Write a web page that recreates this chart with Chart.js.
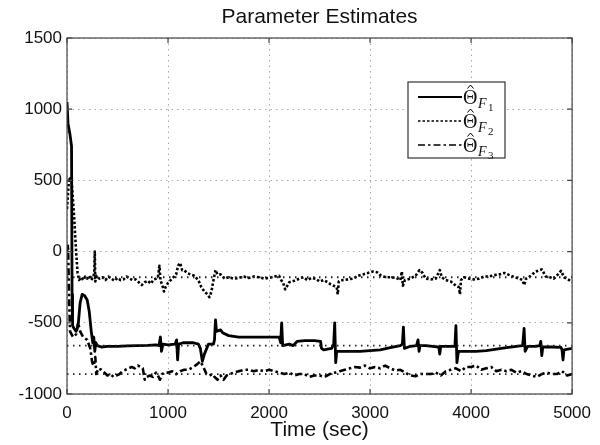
<!DOCTYPE html>
<html>
<head>
<meta charset="utf-8">
<script src="https://cdn.jsdelivr.net/npm/chart.js@4.4.0/dist/chart.umd.min.js"></script>
<style>
  html, body { margin: 0; padding: 0; background: #fff; }
  #chart { display: block; }
</style>
</head>
<body>
<canvas id="chart" width="600" height="445"></canvas>
<script>
// values (time in sec, estimate)
const timeF1 = [0, 10, 30, 45, 50, 55, 70, 90, 110, 130, 150, 175, 200, 220, 240, 255, 265, 275, 285, 300, 340, 400, 500, 600, 700, 800, 880, 910, 925, 935, 950, 1000, 1070, 1085, 1095, 1105, 1150, 1250, 1300, 1320, 1340, 1360, 1400, 1450, 1460, 1470, 1480, 1520, 1540, 1600, 1700, 1800, 1900, 2000, 2100, 2115, 2125, 2135, 2200, 2240, 2280, 2350, 2450, 2510, 2520, 2540, 2620, 2640, 2650, 2660, 2670, 2800, 2900, 3000, 3100, 3200, 3300, 3320, 3330, 3340, 3400, 3460, 3475, 3485, 3495, 3550, 3620, 3680, 3690, 3700, 3780, 3840, 3850, 3860, 3875, 3950, 4050, 4150, 4250, 4350, 4450, 4510, 4525, 4535, 4560, 4640, 4680, 4690, 4700, 4710, 4800, 4890, 4900, 4910, 4920, 5000];
const thetaF1 = [1050, 900, 820, 740, -300, -520, -540, -560, -520, -360, -300, -310, -340, -420, -560, -640, -600, -700, -640, -660, -670, -665, -665, -662, -660, -658, -655, -660, -600, -700, -650, -655, -650, -620, -760, -650, -640, -640, -650, -680, -770, -720, -650, -650, -620, -480, -560, -550, -570, -590, -600, -600, -600, -600, -600, -640, -500, -660, -650, -660, -630, -625, -625, -630, -680, -690, -680, -650, -500, -780, -700, -700, -700, -695, -690, -675, -660, -650, -530, -680, -665, -660, -620, -700, -660, -660, -665, -670, -720, -665, -665, -665, -520, -780, -700, -700, -700, -695, -685, -675, -665, -660, -540, -700, -665, -665, -660, -630, -730, -670, -670, -672, -690, -760, -690, -680];

const timeF2 = [0, 20, 45, 70, 90, 105, 120, 140, 160, 180, 200, 220, 240, 260, 270, 275, 280, 290, 320, 350, 380, 410, 440, 470, 500, 530, 560, 590, 620, 650, 680, 710, 740, 770, 800, 830, 860, 880, 900, 915, 925, 945, 960, 975, 1000, 1040, 1080, 1100, 1120, 1140, 1160, 1190, 1220, 1260, 1300, 1330, 1360, 1390, 1410, 1430, 1450, 1470, 1490, 1520, 1560, 1600, 1650, 1700, 1750, 1800, 1850, 1900, 1950, 2000, 2050, 2100, 2120, 2140, 2160, 2180, 2200, 2250, 2300, 2340, 2380, 2420, 2460, 2500, 2540, 2580, 2610, 2640, 2670, 2680, 2690, 2730, 2780, 2830, 2880, 2930, 2980, 3030, 3070, 3110, 3160, 3210, 3260, 3300, 3315, 3325, 3345, 3400, 3450, 3490, 3520, 3550, 3600, 3650, 3690, 3710, 3750, 3800, 3850, 3880, 3890, 3900, 3930, 3980, 4030, 4080, 4130, 4180, 4230, 4280, 4330, 4380, 4430, 4480, 4510, 4525, 4545, 4590, 4640, 4700, 4740, 4780, 4820, 4860, 4890, 4920, 4960, 5000];
const thetaF2 = [300, 520, 500, 250, 0, -150, -200, -180, -200, -175, -190, -170, -200, -180, -150, 0, -210, -170, -190, -180, -200, -175, -190, -205, -185, -200, -195, -175, -190, -200, -195, -215, -235, -215, -205, -225, -195, -190, -180, -100, -200, -240, -280, -250, -220, -190, -160, -100, -80, -130, -130, -150, -160, -170, -200, -250, -280, -300, -320, -280, -200, -130, -160, -160, -190, -180, -190, -185, -175, -185, -175, -180, -190, -185, -175, -170, -200, -220, -265, -240, -215, -205, -190, -180, -200, -185, -190, -210, -200, -215, -230, -240, -250, -300, -210, -200, -195, -190, -170, -160, -150, -140, -145, -170, -180, -180, -185, -200, -140, -240, -200, -190, -170, -130, -150, -190, -195, -190, -130, -180, -200, -210, -240, -250, -300, -200, -180, -190, -195, -190, -175, -175, -165, -160, -150, -165, -180, -190, -200, -235, -190, -170, -140, -125, -175, -180, -190, -160, -135, -180, -195, -215];

const timeF3 = [0, 10, 20, 30, 60, 90, 110, 130, 160, 200, 230, 250, 265, 280, 290, 310, 340, 370, 400, 430, 460, 490, 520, 550, 580, 610, 640, 670, 700, 730, 750, 770, 790, 820, 850, 880, 900, 920, 940, 970, 1000, 1040, 1080, 1120, 1160, 1200, 1250, 1290, 1320, 1350, 1380, 1410, 1440, 1460, 1490, 1520, 1550, 1580, 1610, 1650, 1700, 1750, 1800, 1850, 1900, 1950, 2000, 2050, 2100, 2150, 2200, 2250, 2300, 2350, 2400, 2450, 2500, 2550, 2600, 2650, 2700, 2750, 2800, 2850, 2900, 2950, 3000, 3050, 3100, 3150, 3200, 3250, 3300, 3350, 3400, 3450, 3500, 3550, 3600, 3650, 3700, 3750, 3800, 3850, 3900, 3950, 4000, 4050, 4100, 4150, 4200, 4250, 4300, 4350, 4400, 4450, 4500, 4550, 4600, 4650, 4700, 4750, 4800, 4850, 4900, 4950, 5000];
const thetaF3 = [0, 50, -300, -560, -600, -580, -500, -560, -600, -620, -680, -780, -800, -740, -860, -820, -830, -850, -870, -860, -880, -870, -860, -840, -830, -820, -810, -820, -800, -810, -820, -900, -880, -870, -880, -850, -870, -900, -860, -850, -850, -840, -860, -840, -830, -830, -810, -790, -770, -810, -860, -870, -860, -880, -900, -870, -900, -870, -860, -850, -840, -830, -830, -840, -830, -840, -830, -840, -850, -860, -850, -870, -860, -860, -880, -870, -870, -880, -860, -850, -840, -830, -820, -810, -815, -800, -820, -810, -820, -800, -820, -835, -830, -850, -870, -875, -860, -860, -860, -850, -870, -840, -830, -820, -840, -810, -810, -800, -830, -820, -810, -840, -830, -840, -830, -850, -840, -860, -870, -880, -860, -850, -860, -860, -840, -870, -860];

// true parameter values (dotted horizontal lines)
const trueValues = [-180, -660, -860];

const xTicks = [0, 1000, 2000, 3000, 4000, 5000];
const yTicks = [-1000, -500, 0, 500, 1000, 1500];
const legendNames = ['F', 'F', 'F'];
const legendSubs = ['1', '2', '3'];

function toPoints(ts, vs) {
    return ts.map((t, i) => ({ x: t, y: vs[i] }));
}

const refSets = trueValues.map(v => ({
    data: [{ x: 0, y: v }, { x: 5000, y: v }],
    borderColor: '#222',
    borderWidth: 1.8,
    borderDash: [1.5, 4.5],
    pointRadius: 0
}));

const styles = [
    { borderDash: [], borderWidth: 2.8 },
    { borderDash: [2.5, 2], borderWidth: 2.6 },
    { borderDash: [7, 3, 2.5, 3], borderWidth: 2.6 }
];

const estSets = [
    toPoints(timeF1, thetaF1),
    toPoints(timeF2, thetaF2),
    toPoints(timeF3, thetaF3)
].map((pts, i) => ({
    data: pts,
    borderColor: '#000',
    borderWidth: styles[i].borderWidth,
    borderDash: styles[i].borderDash,
    pointRadius: 0,
    borderJoinStyle: 'round'
}));

const matlabLook = {
    id: 'matlabLook',
    afterDraw(chart) {
        const ctx = chart.ctx;
        const a = chart.chartArea;
        const xs = chart.scales.x, ys = chart.scales.y;
        ctx.save();
        // box
        ctx.strokeStyle = '#444';
        ctx.lineWidth = 1.2;
        ctx.strokeRect(a.left, a.top, a.right - a.left, a.bottom - a.top);
        // inward ticks
        ctx.beginPath();
        xTicks.forEach(t => {
            const px = xs.getPixelForValue(t);
            ctx.moveTo(px, a.bottom); ctx.lineTo(px, a.bottom - 5);
            ctx.moveTo(px, a.top); ctx.lineTo(px, a.top + 5);
        });
        yTicks.forEach(v => {
            const py = ys.getPixelForValue(v);
            ctx.moveTo(a.left, py); ctx.lineTo(a.left + 5, py);
            ctx.moveTo(a.right, py); ctx.lineTo(a.right - 5, py);
        });
        ctx.stroke();

        // title
        ctx.fillStyle = '#111';
        ctx.font = '21px "Liberation Sans", Arial, sans-serif';
        ctx.textAlign = 'center';
        ctx.textBaseline = 'middle';
        ctx.fillText('Parameter Estimates', (a.left + a.right) / 2, 17);

        // legend
        const bx = 408, by = 82, bw = 97, bh = 76;
        ctx.fillStyle = '#fff';
        ctx.fillRect(bx, by, bw, bh);
        ctx.strokeStyle = '#333';
        ctx.lineWidth = 1.2;
        ctx.strokeRect(bx, by, bw, bh);
        const rows = [97, 121, 145];
        rows.forEach((ry, i) => {
            ctx.beginPath();
            ctx.strokeStyle = '#000';
            ctx.lineWidth = i === 0 ? 2 : 1.6;
            ctx.setLineDash(styles[i].borderDash);
            ctx.moveTo(418, ry); ctx.lineTo(462, ry);
            ctx.stroke();
            ctx.setLineDash([]);
            ctx.fillStyle = '#111';
            ctx.textAlign = 'left';
            ctx.textBaseline = 'alphabetic';
            ctx.font = '20px "Liberation Serif", "DejaVu Serif", serif';
            ctx.fillText('\u0398', 463, ry + 7);
            // hat over theta
            ctx.beginPath();
            ctx.lineWidth = 1;
            ctx.moveTo(467.5, ry - 8.5);
            ctx.lineTo(470.5, ry - 12);
            ctx.lineTo(473.5, ry - 8.5);
            ctx.stroke();
            ctx.font = 'italic 14px "Liberation Serif", serif';
            ctx.fillText(legendNames[i], 478, ry + 11);
            ctx.font = '11px "Liberation Serif", serif';
            ctx.fillText(legendSubs[i], 488, ry + 14);
        });
        ctx.restore();
    }
};

const tickFont = { family: '"Liberation Sans", Arial, sans-serif', size: 17 };
const plainTick = v => String(v);

new Chart(document.getElementById('chart'), {
    type: 'line',
    data: { datasets: refSets.concat(estSets) },
    options: {
        responsive: false,
        animation: false,
        layout: { padding: { top: 38, right: 21, left: 0, bottom: 0 } },
        plugins: {
            legend: { display: false },
            tooltip: { enabled: false },
            title: { display: false }
        },
        scales: {
            x: {
                type: 'linear',
                min: 0,
                max: 5000,
                afterFit: s => { s.height = 51; },
                afterBuildTicks: s => { s.ticks = xTicks.map(v => ({ value: v })); },
                grid: { color: '#aaa', drawTicks: false, lineWidth: 1 },
                border: { display: false, dash: [1.5, 4] },
                ticks: { color: '#111', font: tickFont, padding: 9, maxRotation: 0, callback: plainTick },
                title: {
                    display: true,
                    text: 'Time (sec)',
                    color: '#111',
                    font: { family: '"Liberation Sans", Arial, sans-serif', size: 21 },
                    padding: { top: 0, bottom: 2 }
                }
            },
            y: {
                min: -1000,
                max: 1500,
                afterFit: s => { s.width = 67; },
                afterBuildTicks: s => { s.ticks = yTicks.map(v => ({ value: v })); },
                grid: { color: '#aaa', drawTicks: false, lineWidth: 1 },
                border: { display: false, dash: [1.5, 4] },
                ticks: { color: '#111', font: tickFont, padding: 5, callback: plainTick }
            }
        }
    },
    plugins: [matlabLook]
});
</script>
</body>
</html>
